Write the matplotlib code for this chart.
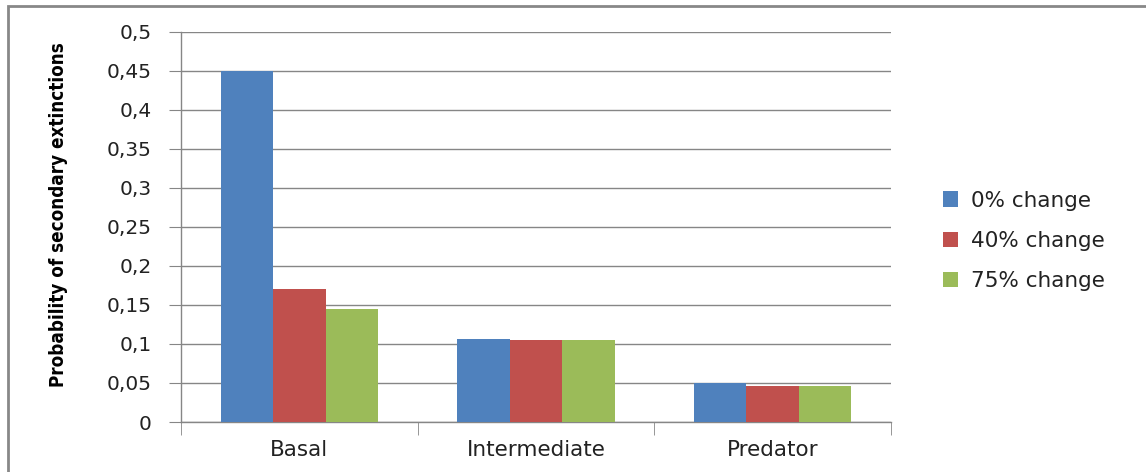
import matplotlib
matplotlib.use("Agg")
import matplotlib.pyplot as plt
import numpy as np
from matplotlib.ticker import FuncFormatter, MultipleLocator, FixedLocator
from matplotlib.patches import Rectangle

groups = ["Basal", "Intermediate", "Predator"]
series_names = ["0% change", "40% change", "75% change"]
change_0 = [0.45, 0.106, 0.050]
change_40 = [0.170, 0.105, 0.046]
change_75 = [0.145, 0.105, 0.046]
colors = ["#4f81bd", "#c0504d", "#9bbb59"]

plt.rcParams["font.family"] = ["DejaVu Sans"]

fig = plt.figure(figsize=(11.46, 4.72), dpi=100)
ax = fig.add_axes([181 / 1146, 1 - 422 / 472, 710 / 1146, 390 / 472])

x = np.arange(len(groups))
w = 0.222
for i, (vals, name) in enumerate(zip([change_0, change_40, change_75], series_names)):
    ax.bar(x + (i - 1) * w, vals, width=w, color=colors[i], label=name, zorder=3)

ax.set_xlim(-0.5, 2.5)
ax.set_ylim(0, 0.5)
ax.yaxis.set_major_locator(MultipleLocator(0.05))
ax.yaxis.set_major_formatter(FuncFormatter(
    lambda v, p: "0" if abs(v) < 1e-9 else ("%g" % round(v, 2)).replace(".", ",")))
ax.set_xticks(x)
ax.set_xticklabels(groups)
ax.xaxis.set_minor_locator(FixedLocator([-0.5, 0.5, 1.5, 2.5]))

grid_c = "#868686"
ax.grid(axis="y", color=grid_c, linewidth=1, zorder=0)
for s in ["top", "right"]:
    ax.spines[s].set_visible(False)
for s in ["left", "bottom"]:
    ax.spines[s].set_color(grid_c)
    ax.spines[s].set_linewidth(1)
ax.tick_params(axis="y", which="major", length=9, color=grid_c, labelsize=14.5,
               labelcolor="#222222", pad=12)
ax.tick_params(axis="x", which="major", length=0, labelsize=15.5, labelcolor="#222222", pad=13)
ax.tick_params(axis="x", which="minor", length=9, color=grid_c, direction="out")

ax.set_ylabel("Probability of secondary extinctions",
              family="DejaVu Sans", fontstretch="condensed", fontweight="bold",
              fontsize=13.5, labelpad=12)
ax.yaxis.set_label_coords(68 / 1146, 1 - 215 / 472, transform=fig.transFigure)

ax.legend(loc="center left", bbox_to_anchor=(924 / 1146, 1 - 241 / 472),
          bbox_transform=fig.transFigure, frameon=False, fontsize=15.5,
          handlelength=0.7, handleheight=0.7, handletextpad=0.6, labelspacing=0.95,
          labelcolor="#222222")

# outer chart border
fig.patches.append(Rectangle((8 / 1146, -0.1), 1.2, 1.1 - 6 / 472,
                             transform=fig.transFigure, fill=False,
                             edgecolor="#888888", linewidth=2))

fig.savefig("out.png", dpi=100, facecolor="white")
